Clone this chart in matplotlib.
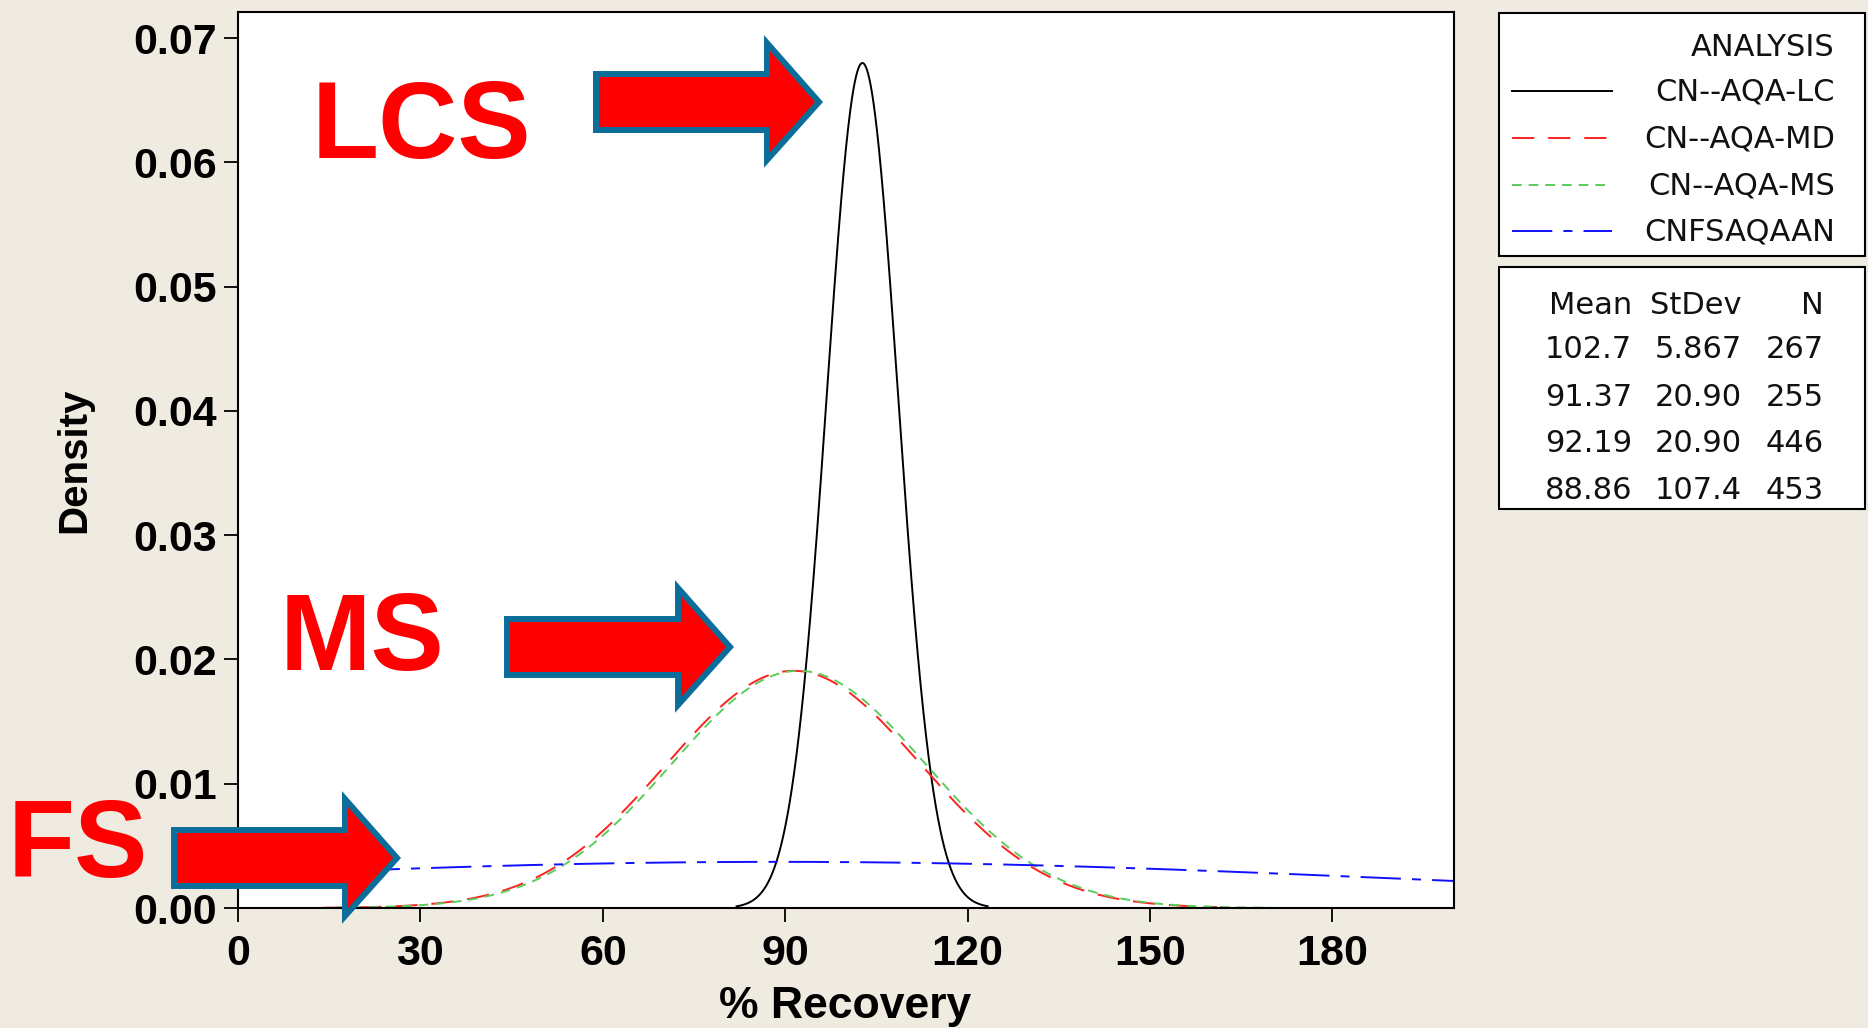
import numpy as np
import matplotlib
matplotlib.use("Agg")
import matplotlib.pyplot as plt
from matplotlib.lines import Line2D
from matplotlib.patches import Polygon, Rectangle

# fitted normal curves (values from the summary table)
groups = ["CN--AQA-LC", "CN--AQA-MD", "CN--AQA-MS", "CNFSAQAAN"]
means = [102.7, 91.37, 92.19, 88.86]
stdevs = [5.867, 20.90, 20.90, 107.4]
counts = [267, 255, 446, 453]
# span of each drawn curve (% recovery)
range_lo = [82.0, 14.0, 16.0, 20.0]
range_hi = [123.3, 161.0, 170.0, 200.0]

x_ticks = [0, 30, 60, 90, 120, 150, 180]
y_ticks = [0.00, 0.01, 0.02, 0.03, 0.04, 0.05, 0.06, 0.07]

colors = ["black", "#FF2020", "#5CCB5C", "#1010FF"]
styles = ["-", (0, (16, 10)), (0, (7, 5)), (0, (29, 8, 6.5, 8))]

plt.rcParams["lines.scale_dashes"] = False

W, H = 1868, 1028
bg = "#EFEBE1"


def fx(x):
    return x / W


def fy(y):
    return 1 - y / H


fig = plt.figure(figsize=(W / 100, H / 100), dpi=100, facecolor=bg)
ax = fig.add_axes([fx(238), fy(908), fx(1454) - fx(238), fy(12) - fy(908)])
ax.set_facecolor("white")

for i in range(len(groups)):
    xs = np.linspace(range_lo[i], range_hi[i], 600)
    dens = np.exp(-0.5 * ((xs - means[i]) / stdevs[i]) ** 2) / (stdevs[i] * np.sqrt(2 * np.pi))
    ax.plot(xs, dens, color=colors[i], linestyle=styles[i], lw=1.4)

ax.set_xlim(0, 200)
ax.set_ylim(0, 0.0721)
ax.set_xticks(x_ticks)
ax.set_yticks(y_ticks)
ax.set_yticklabels([f"{v:.2f}" for v in y_ticks])
for s in ax.spines.values():
    s.set_linewidth(1.5)
ax.tick_params(direction="out", length=10, width=1.3, pad=5)
ax.tick_params(axis="x", pad=9)
for lab in ax.get_yticklabels():
    lab.set_fontfamily("Liberation Sans")
    lab.set_fontweight("bold")
    lab.set_fontsize(31)
for lab in ax.get_xticklabels():
    lab.set_fontfamily(["Liberation Sans Narrow", "Liberation Sans"])
    lab.set_fontweight("bold")
    lab.set_fontsize(31)

ax.set_ylabel("Density", fontfamily="Liberation Sans", fontweight="bold", fontsize=29)
ax.yaxis.set_label_coords(-0.119, 0.5)
fig.text(fx(845), fy(1018), "% Recovery", ha="center", va="baseline",
         fontfamily="Liberation Sans", fontweight="bold", fontsize=32)

# legend boxes
fig.add_artist(Rectangle((fx(1499), fy(256)), fx(1865) - fx(1499), fy(13) - fy(256),
                         transform=fig.transFigure, facecolor="white", edgecolor="black", lw=1.5))
fig.add_artist(Rectangle((fx(1499), fy(509)), fx(1865) - fx(1499), fy(267) - fy(509),
                         transform=fig.transFigure, facecolor="white", edgecolor="black", lw=1.5))

leg_font = dict(fontfamily="DejaVu Sans", fontsize=22, color="#111111")
fig.text(fx(1835), fy(47), "ANALYSIS", ha="right", va="center", **leg_font)
row_y = [91, 138, 185, 231]
for i in range(len(groups)):
    fig.add_artist(Line2D([fx(1512), fx(1612)], [fy(row_y[i]), fy(row_y[i])],
                          transform=fig.transFigure, color=colors[i],
                          linestyle=styles[i], lw=1.4))
    fig.text(fx(1835), fy(row_y[i] + 1), groups[i], ha="right", va="center", **leg_font)

col_x = [1632, 1742, 1824]
tab_y = [305, 350, 397, 444, 490]
for cx, head in zip(col_x, ["Mean", "StDev", "N"]):
    fig.text(fx(cx), fy(tab_y[0]), head, ha="right", va="center", **leg_font)
for i in range(len(groups)):
    vals = [f"{means[i]:#.4g}", f"{stdevs[i]:#.4g}", str(counts[i])]
    for cx, v in zip(col_x, vals):
        fig.text(fx(cx), fy(tab_y[i + 1]), v, ha="right", va="center", **leg_font)


# callout arrows
def arrow(tip_x, tip_y):
    pts = [(tip_x - 226, tip_y - 28), (tip_x - 55, tip_y - 28), (tip_x - 55, tip_y - 59),
           (tip_x - 3, tip_y), (tip_x - 55, tip_y + 58), (tip_x - 55, tip_y + 28),
           (tip_x - 226, tip_y + 28)]
    poly = Polygon([(fx(a), fy(b)) for a, b in pts], closed=True, transform=fig.transFigure,
                   facecolor="#FF0000", edgecolor="#0B6E9A", lw=4.3, joinstyle="miter",
                   zorder=10)
    fig.add_artist(poly)


arrow(822, 102)
arrow(733, 647)
arrow(400, 858)

big = dict(fontfamily="Liberation Sans", fontweight="bold", fontsize=79, color="#FF0000",
           ha="left", va="baseline", zorder=11)
fig.text(fx(312), fy(158), "LCS", **big)
fig.text(fx(280), fy(670), "MS", **big)
fig.text(fx(8), fy(877), "FS", **big)

fig.savefig("out.png", dpi=100, facecolor=bg)
